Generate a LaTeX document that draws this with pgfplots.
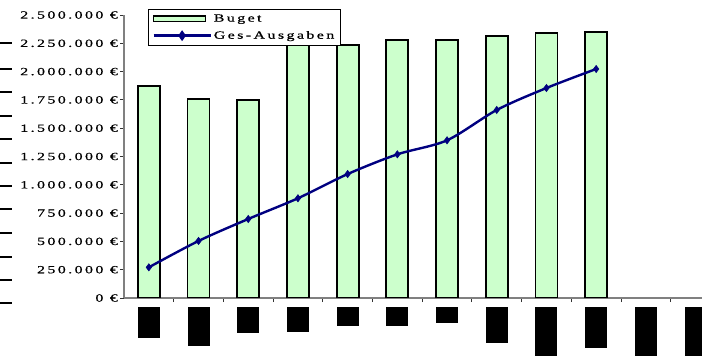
\documentclass[border=0pt]{standalone}
\usepackage{pgfplots}
\pgfplotsset{compat=1.18}
\usepackage{fontspec}
\setmainfont{Liberation Serif}
\newfontfamily\wide{Liberation Serif}[FakeStretch=1.45, LetterSpace=22, FakeBold=0.6]

\definecolor{budgetgreen}{HTML}{CCFFCC}
\definecolor{spendnavy}{HTML}{000080}
\definecolor{axisgray}{HTML}{808080}

\begin{document}
\begin{tikzpicture}
\useasboundingbox (0,0) rectangle (702pt,356pt);
\clip (0,0) rectangle (702pt,356pt);
% short marks along the left margin
\foreach \y in {313,287,264,240,217,193,170,147,123,99,76,53}
  \draw[line width=2.6pt] (0pt,\y pt) -- (12pt,\y pt);
\begin{axis}[
  at={(124pt,58pt)}, anchor=south west,
  scale only axis, width=578pt, height=283pt,
  xmin=-0.5, xmax=11.13, ymin=0, ymax=2500000,
  axis lines=left,
  axis line style={-, draw=axisgray, line width=1.2pt},
  tick align=outside,
  major tick length=4pt,
  tick style={draw=black!80, line width=0.9pt},
  scaled y ticks=false,
  ytick={0,250000,500000,750000,1000000,1250000,1500000,1750000,2000000,2250000,2500000},
  yticklabels={0 €,250.000 €,500.000 €,750.000 €,1.000.000 €,1.250.000 €,1.500.000 €,1.750.000 €,2.000.000 €,2.250.000 €,2.500.000 €},
  yticklabel style={font=\wide\fontsize{11}{13}\selectfont, inner sep=0pt, xshift=-2pt},
  xtick={0.5,1.5,...,10.5},
  xticklabels={},
  extra x ticks={0,1,2,3,4,5,6,7,8,9,10,11},
  extra x tick labels={\rule{22pt}{31pt},\rule{22pt}{39pt},\rule{22pt}{26pt},\rule{22pt}{25pt},\rule{22pt}{19pt},\rule{22pt}{19pt},\rule{22pt}{16pt},\rule{22pt}{36pt},\rule{22pt}{52pt},\rule{22pt}{41pt},\rule{22pt}{50pt},\rule{22pt}{52pt}},
  extra x tick style={tick style={draw=none}, xticklabel style={anchor=north, inner sep=0pt, yshift=-5pt}},
  legend style={at={(0.0415,1.0212)}, anchor=north west, draw=black, line width=0.8pt,
    font=\wide\fontsize{11}{13}\selectfont, inner xsep=4pt, inner ysep=3pt, row sep=4pt,
    cells={anchor=west}},
]
\addplot[ybar, bar width=22pt, fill=budgetgreen, draw=black, line width=1.8pt,
  legend image code/.code={\draw[fill=budgetgreen, draw=black, line width=1.5pt] (0pt,-2.7pt) rectangle (52pt,2.7pt);}]
  coordinates {(0,1875000) (1,1758000) (2,1749000) (3,2245000) (4,2235000)
               (5,2279000) (6,2279000) (7,2317000) (8,2341000) (9,2352000)};
\addlegendentry{Buget}
\addplot[spendnavy, line width=2.4pt, smooth, tension=0.5, mark=diamond*, mark size=3.6pt,
  mark options={line width=0.6pt},
  legend image code/.code={\draw[spendnavy, line width=2.4pt] (0pt,0pt) -- (57pt,0pt);
    \fill[spendnavy] (28.5pt,0pt) +(0,3.4pt) -- +(2.4pt,0) -- +(0,-3.4pt) -- +(-2.4pt,0) -- cycle;}]
  coordinates {(0,271000) (1,504000) (2,698000) (3,881000) (4,1095000)
               (5,1269000) (6,1393000) (7,1661000) (8,1855000) (9,2023000)};
\addlegendentry{Ges-Ausgaben}
\end{axis}
\end{tikzpicture}
\end{document}
